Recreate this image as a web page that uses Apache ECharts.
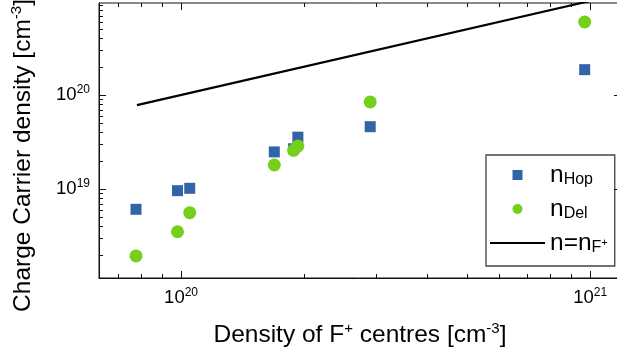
<!DOCTYPE html>
<html>
<head>
<meta charset="utf-8">
<script src="https://cdn.jsdelivr.net/npm/echarts@6/dist/echarts.min.js"></script>
<style>
html,body{margin:0;padding:0;background:#fff;}
#c{width:617px;height:353px;}
</style>
</head>
<body>
<div id="c"></div>
<script>
// ---- data ----
const xF = [7.76e19, 9.8e19, 1.05e20, 1.69e20, 1.884e20, 1.93e20, 2.9e20, 9.7e20];
const nHop = [6.08e18, 9.6e18, 1.017e19, 2.48e19, 2.68e19, 3.56e19, 4.6e19, 1.86e20];
const nDel = [1.94e18, 3.51e18, 5.6e18, 1.8e19, 2.58e19, 2.86e19, 8.43e19, 5.98e20];
const lineX = [7.8e19, 1.0e21];
const lineY = [7.8e19, 1.0e21];
const seriesNames = ['nHop', 'nDel', 'nF'];
const xMajorTicks = [1e20, 1e21];
const xMinorTicks = [7e19, 8e19, 9e19, 2e20, 3e20, 4e20, 5e20, 6e20, 7e20, 8e20, 9e20];
const yMajorTicks = [1e19, 1e20];
const yMinorTicks = [2e18, 3e18, 4e18, 5e18, 6e18, 7e18, 8e18, 9e18, 2e19, 3e19, 4e19, 5e19, 6e19, 7e19, 8e19, 9e19, 2e20, 3e20, 4e20, 5e20, 6e20, 7e20, 8e20, 9e20];
const X_MIN = 6.3e19, X_MAX = 1.19e21;
const Y_MIN = 1.13e18, Y_MAX = 9.52e20;

const FONT = "'Liberation Sans', Arial, sans-serif";
const chart = echarts.init(document.getElementById('c'), null, {renderer: 'canvas'});

function zip(a, b) { return a.map((v, i) => [v, b[i]]); }

function expLabel(v) {
  const e = Math.round(Math.log10(v));
  return '{b|10}{s|' + e + '}';
}

function xTickItem(params, api) {
  const cs = params.coordSys;
  const px = Math.round(api.coord([api.value(0), api.value(1)])[0]) + 0.5;
  const len = api.value(2) ? 7 : 4;
  const top = cs.y, bot = cs.y + cs.height;
  return {type: 'group', children: [
    {type: 'line', shape: {x1: px, y1: bot, x2: px, y2: bot - len}, style: {stroke: '#111', lineWidth: 1}},
    {type: 'line', shape: {x1: px, y1: top, x2: px, y2: top + len}, style: {stroke: '#111', lineWidth: 1}}
  ]};
}
function yTickItem(params, api) {
  const cs = params.coordSys;
  const py = Math.round(api.coord([api.value(0), api.value(1)])[1]) + 0.5;
  const len = api.value(2) ? 7 : 4;
  const l = cs.x, r = cs.x + cs.width;
  return {type: 'group', children: [
    {type: 'line', shape: {x1: l, y1: py, x2: l + len, y2: py}, style: {stroke: '#111', lineWidth: 1}},
    {type: 'line', shape: {x1: r, y1: py, x2: r - len, y2: py}, style: {stroke: '#111', lineWidth: 1}}
  ]};
}

const labelRich = {
  b: {fontSize: 18.5, fontFamily: FONT, color: '#000', lineHeight: 22},
  s: {fontSize: 12, fontFamily: FONT, color: '#000', verticalAlign: 'top', lineHeight: 12}
};

const legendText = {
  nHop: 'n{sub|Hop}',
  nDel: 'n{sub|Del}',
  nF: 'n=n{sub|F}{ss|+}'
};

chart.setOption({
  animation: false,
  backgroundColor: '#fff',
  grid: {left: 99, top: 3, right: -4, bottom: 75, outerBoundsMode: 'none', containLabel: false,
         show: true, borderColor: '#111', borderWidth: 1, backgroundColor: 'transparent'},
  xAxis: {
    type: 'log', logBase: 10, min: X_MIN, max: X_MAX,
    axisLine: {show: true, lineStyle: {color: '#111', width: 1}},
    axisTick: {show: false}, minorTick: {show: false},
    splitLine: {show: false},
    axisLabel: {showMinLabel: false, showMaxLabel: false, margin: 9, formatter: expLabel, rich: labelRich},
    name: 'Density of F{s|+} centres [cm{s|-3}]',
    nameLocation: 'middle', nameGap: 43,
    nameTextStyle: {fontSize: 24.5, fontFamily: FONT, color: '#000', lineHeight: 28,
      rich: {s: {fontSize: 15, fontFamily: FONT, color: '#000', verticalAlign: 'top', lineHeight: 15}}}
  },
  yAxis: {
    type: 'log', logBase: 10, min: Y_MIN, max: Y_MAX,
    axisLine: {show: true, lineStyle: {color: '#111', width: 1}},
    axisTick: {show: false}, minorTick: {show: false},
    splitLine: {show: false},
    axisLabel: {showMinLabel: false, showMaxLabel: false, margin: 9, formatter: expLabel, rich: labelRich},
    name: 'Charge Carrier density [cm{s|-3}]',
    nameLocation: 'middle', nameGap: 62, nameRotate: 90,
    nameTextStyle: {fontSize: 24.5, fontFamily: FONT, color: '#000', lineHeight: 28, padding: [0, 30, 0, 0],
      rich: {s: {fontSize: 15, fontFamily: FONT, color: '#000', verticalAlign: 'top', lineHeight: 15}}}
  },
  legend: {
    orient: 'vertical', left: 486, top: 155,
    padding: [7, 7, 10, 4],
    itemWidth: 55, itemHeight: 10, itemGap: 8,
    symbolKeepAspect: true,
    backgroundColor: '#fff', borderColor: '#444', borderWidth: 1.3,
    data: [
      {name: 'nHop', icon: 'path://M0,0h10v10h-10z'},
      {name: 'nDel', icon: 'path://M0,6a6,6 0 1,0 12,0a6,6 0 1,0 -12,0z'},
      {name: 'nF', icon: 'path://M0,0h55v2.2h-55z'}
    ],
    formatter: name => legendText[name],
    textStyle: {fontSize: 24.5, fontFamily: FONT, color: '#000', lineHeight: 26,
      rich: {
        sub: {fontSize: 16, fontFamily: FONT, color: '#000', verticalAlign: 'bottom', lineHeight: 16},
        ss: {fontSize: 11, fontFamily: FONT, color: '#000', verticalAlign: 'middle', lineHeight: 22}
      }}
  },
  series: [
    {type: 'custom', renderItem: xTickItem, silent: true, z: 5,
     data: xMajorTicks.map(v => [v, Y_MIN, 1]).concat(xMinorTicks.map(v => [v, Y_MIN, 0])),
     encode: {x: 0, y: 1}},
    {type: 'custom', renderItem: yTickItem, silent: true, z: 5,
     data: yMajorTicks.map(v => [X_MIN, v, 1]).concat(yMinorTicks.map(v => [X_MIN, v, 0])),
     encode: {x: 0, y: 1}},
    {name: 'nHop', type: 'scatter', symbol: 'rect', symbolSize: 11, z: 3,
     itemStyle: {color: '#3264a8', opacity: 1}, data: zip(xF, nHop)},
    {name: 'nDel', type: 'scatter', symbol: 'circle', symbolSize: 13, z: 4,
     itemStyle: {color: '#74d01a', opacity: 1}, data: zip(xF, nDel)},
    {name: 'nF', type: 'line', symbol: 'none', z: 2, clip: true, color: '#000',
     itemStyle: {color: '#000'},
     lineStyle: {color: '#000', width: 2.2}, data: zip(lineX, lineY)}
  ]
});
</script>
</body>
</html>
